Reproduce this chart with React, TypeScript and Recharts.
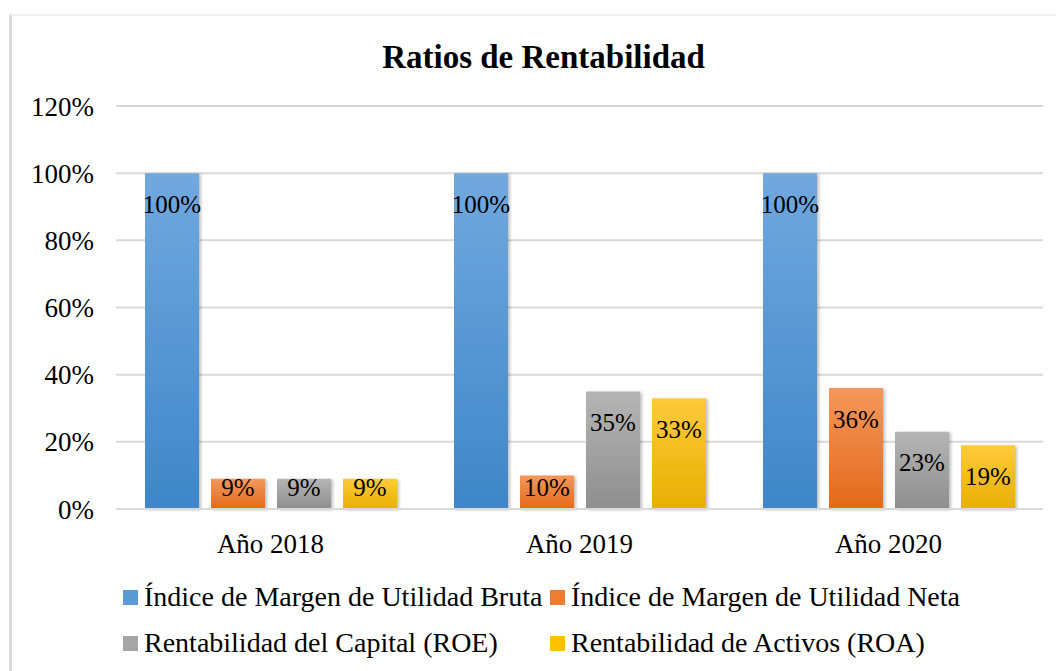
import { BarChart, Bar, XAxis, YAxis, CartesianGrid, LabelList } from 'recharts'

const years = ['Año 2018', 'Año 2019', 'Año 2020']
const margenBruta = [100, 100, 100]
const margenNeta = [9, 10, 36]
const roe = [9, 35, 23]
const roa = [9, 33, 19]
const yTicks = [0, 20, 40, 60, 80, 100, 120]

const series = [
  { key: 'bruta', name: 'Índice de Margen de Utilidad Bruta', top: '#71a8de', bottom: '#3f86c8', swatch: '#5b9bd5' },
  { key: 'neta', name: 'Índice de Margen de Utilidad Neta', top: '#f4985c', bottom: '#e3691a', swatch: '#ed7d31' },
  { key: 'roe', name: 'Rentabilidad del Capital (ROE)', top: '#b5b5b5', bottom: '#8e8e8e', swatch: '#a5a5a5' },
  { key: 'roa', name: 'Rentabilidad de Activos (ROA)', top: '#ffca3c', bottom: '#e6b000', swatch: '#ffc000' },
]

const data = years.map((year, i) => ({
  year,
  bruta: margenBruta[i],
  neta: margenNeta[i],
  roe: roe[i],
  roa: roa[i],
}))

const font = '"Liberation Serif", "Times New Roman", serif'

// data label: near the top of the bar, pushed down to stay inside short bars
const renderLabel = (props: any) => {
  const { x, y, width, height, value } = props
  const cy = Math.min(y + 31, y + height - 22)
  return (
    <text
      x={x + width / 2}
      y={cy}
      textAnchor="middle"
      dominantBaseline="central"
      fontFamily={font}
      fontSize={25}
      fill="#000"
    >
      {value}%
    </text>
  )
}

const legendPos = [
  { left: 123, top: 597 },
  { left: 550, top: 597 },
  { left: 123, top: 643 },
  { left: 550, top: 643 },
]

export default function App() {
  return (
    <div style={{ position: 'absolute', left: 0, top: 0, width: 1056, height: 671, background: '#fff', overflow: 'hidden' }}>
      <div
        style={{
          position: 'absolute',
          left: 9,
          top: 14,
          width: 1100,
          height: 700,
          borderTop: '2px solid #f0f0f0',
          borderLeft: '3px solid #d9d9d9',
        }}
      />
      <div
        style={{
          position: 'absolute',
          left: 0,
          width: 1087,
          top: 38,
          textAlign: 'center',
          fontFamily: font,
          fontWeight: 'bold',
          fontSize: 33,
          lineHeight: '38px',
        }}
      >
        Ratios de Rentabilidad
      </div>
      <div style={{ position: 'absolute', left: 0, top: 0 }}>
        <BarChart
          width={1056}
          height={671}
          data={data}
          margin={{ top: 106, right: 13, left: 16, bottom: 122 }}
          barSize={54}
          barGap={12}
        >
          <defs>
            {series.map((s) => (
              <linearGradient key={s.key} id={'grad-' + s.key} x1="0" y1="0" x2="0" y2="1">
                <stop offset="0%" stopColor={s.top} />
                <stop offset="100%" stopColor={s.bottom} />
              </linearGradient>
            ))}
            <filter id="shadow" x="-20%" y="-20%" width="140%" height="140%">
              <feDropShadow dx="2" dy="1" stdDeviation="1.5" floodColor="#000" floodOpacity="0.25" />
            </filter>
          </defs>
          <CartesianGrid vertical={false} stroke="#d9d9d9" strokeWidth={2} />
          <XAxis
            dataKey="year"
            height={40}
            axisLine={{ stroke: '#d9d9d9', strokeWidth: 2 }}
            tickLine={false}
            tickSize={0}
            tickMargin={25}
            tick={{ fontFamily: font, fontSize: 27, fill: '#000' }}
          />
          <YAxis
            width={100}
            domain={[0, 120]}
            ticks={yTicks}
            interval={0}
            axisLine={false}
            tickLine={false}
            tickSize={0}
            tickMargin={22}
            tickFormatter={(v) => `${v}%`}
            tick={{ fontFamily: font, fontSize: 27, fill: '#000' }}
          />
          {series.map((s) => (
            <Bar
              key={s.key}
              dataKey={s.key}
              name={s.name}
              fill={`url(#grad-${s.key})`}
              filter="url(#shadow)"
              isAnimationActive={false}
            >
              <LabelList dataKey={s.key} content={renderLabel} />
            </Bar>
          ))}
        </BarChart>
      </div>
      {series.map((s, i) => (
        <div
          key={s.key}
          style={{
            position: 'absolute',
            left: legendPos[i].left,
            top: legendPos[i].top - 18,
            height: 36,
            display: 'flex',
            alignItems: 'center',
            fontFamily: font,
            fontSize: 28,
            whiteSpace: 'nowrap',
          }}
        >
          <span style={{ display: 'inline-block', width: 15, height: 15, background: s.swatch, marginRight: 6 }} />
          {s.name}
        </div>
      ))}
    </div>
  )
}
